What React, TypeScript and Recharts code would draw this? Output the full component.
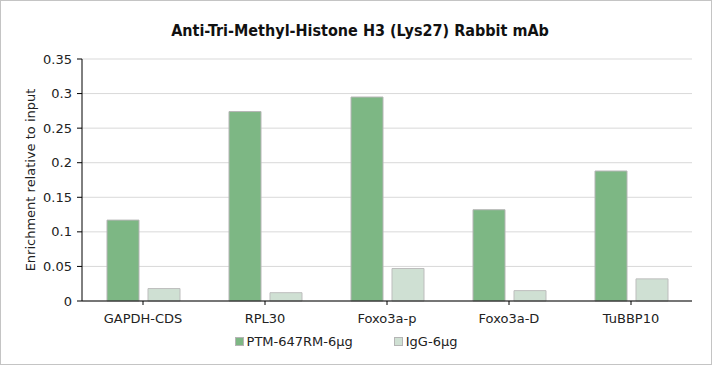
import React from "react";
import {
  Bar,
  BarChart,
  CartesianGrid,
  Legend,
  XAxis,
  YAxis,
} from "recharts";

const categories = ["GAPDH-CDS", "RPL30", "Foxo3a-p", "Foxo3a-D", "TuBBP10"];
const ptmValues = [0.117, 0.274, 0.295, 0.132, 0.188];
const iggValues = [0.018, 0.012, 0.047, 0.015, 0.032];
const yTicks = [0, 0.05, 0.1, 0.15, 0.2, 0.25, 0.3, 0.35];
const seriesNames = ["PTM-647RM-6μg", "IgG-6μg"];

const FONT = "Verdana, 'DejaVu Sans', sans-serif";
const GREEN = "#7db784";
const LIGHT = "#cfe0d3";

const data = categories.map((name, i) => ({
  name,
  ptm: ptmValues[i],
  igg: iggValues[i],
}));

function LegendContent({ payload }: any) {
  // keep series order (recharts sorts by name otherwise)
  const items = [...(payload || [])].sort(
    (a: any, b: any) => seriesNames.indexOf(a.value) - seriesNames.indexOf(b.value)
  );
  return (
    <div
      style={{
        display: "flex",
        justifyContent: "center",
        fontFamily: FONT,
        fontSize: 13,
        color: "#222",
        paddingTop: 3,
        paddingRight: 10,
      }}
    >
      {items.map((p: any, i: number) => (
        <div key={i} style={{ display: "flex", alignItems: "center", marginRight: i === 0 ? 41 : 0 }}>
          <span
            style={{
              display: "inline-block",
              width: 7,
              height: 7,
              background: p.color,
              border: "1px solid #b5b5b5",
              marginRight: 3,
            }}
          />
          <span>{p.value}</span>
        </div>
      ))}
    </div>
  );
}

export default function App() {
  React.useEffect(() => {
    document.body.style.margin = "0";
  }, []);

  return (
    <div
      style={{
        position: "relative",
        width: 712,
        height: 365,
        background: "#fff",
        fontFamily: FONT,
      }}
    >
      <div
        style={{
          position: "absolute",
          left: 0,
          top: 0,
          width: 710,
          height: 363,
          border: "1px solid #c4c4c4",
          pointerEvents: "none",
        }}
      />
      <div
        style={{
          position: "absolute",
          left: 4,
          top: 21,
          width: 712,
          textAlign: "center",
          fontWeight: "bold",
          fontSize: 16,
          fontFamily: "'DejaVu Sans Condensed', 'DejaVu Sans', sans-serif",
          color: "#111",
        }}
      >
        Anti-Tri-Methyl-Histone H3 (Lys27) Rabbit mAb
      </div>
      <BarChart
        width={712}
        height={365}
        data={data}
        margin={{ top: 59, right: 20, bottom: 14, left: 10 }}
        barSize={32}
        barGap={9}
      >
        <CartesianGrid vertical={false} stroke="#d9d9d9" strokeWidth={1} />
        <XAxis
          dataKey="name"
          height={30}
          tickSize={4}
          tickMargin={9}
          axisLine={{ stroke: "#000" }}
          tickLine={{ stroke: "#000" }}
          tick={{ fill: "#222", fontSize: 13, fontFamily: FONT }}
          interval={0}
        />
        <YAxis
          width={72}
          domain={[0, 0.35]}
          ticks={yTicks}
          tickSize={5}
          tickMargin={5}
          axisLine={{ stroke: "#000" }}
          tickLine={{ stroke: "#000" }}
          tick={{ fill: "#222", fontSize: 13, fontFamily: FONT }}
          tickFormatter={(v: number) => String(Number(v.toFixed(2)))}
          label={{
            content: ({ viewBox }: any) => {
              const cx = viewBox.x + 20;
              const cy = viewBox.y + viewBox.height / 2;
              return (
                <text
                  x={cx}
                  y={cy}
                  transform={`rotate(-90 ${cx} ${cy})`}
                  textAnchor="middle"
                  dominantBaseline="central"
                  fill="#222"
                  fontSize={13}
                  fontFamily={FONT}
                >
                  Enrichment relative to input
                </text>
              );
            },
          }}
        />
        <Legend
          verticalAlign="bottom"
          height={20}
          content={<LegendContent />}
        />
        <Bar
          dataKey="ptm"
          name={seriesNames[0]}
          fill={GREEN}
          stroke="#b5b5b5"
          strokeWidth={1}
          isAnimationActive={false}
        />
        <Bar
          dataKey="igg"
          name={seriesNames[1]}
          fill={LIGHT}
          stroke="#bdbdbd"
          strokeWidth={1}
          isAnimationActive={false}
        />
      </BarChart>
    </div>
  );
}
